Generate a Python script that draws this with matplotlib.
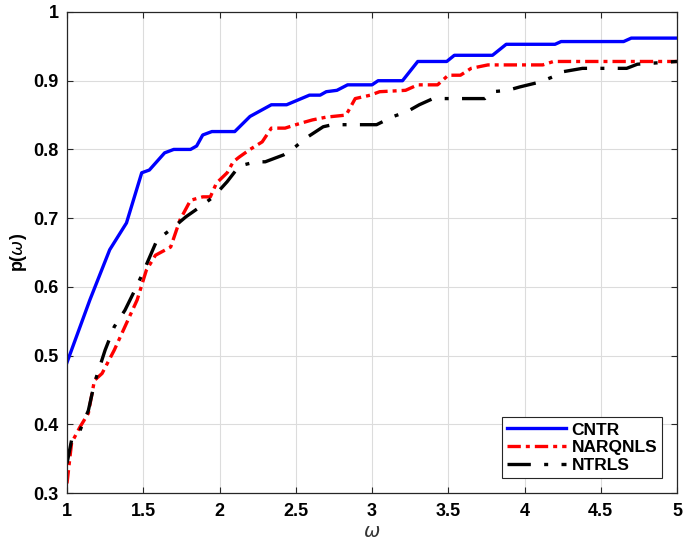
import matplotlib
matplotlib.use("Agg")
import matplotlib.pyplot as plt

cntr_x = [1, 1.15, 1.28, 1.39, 1.49, 1.54, 1.64, 1.70, 1.81, 1.85, 1.89, 1.95, 2.10, 2.20, 2.34, 2.44,
          2.59, 2.66, 2.70, 2.77, 2.84, 3.0, 3.04, 3.20, 3.30, 3.49, 3.54, 3.79, 3.88, 4.20, 4.24, 4.65, 4.70, 5.0]
cntr_y = [0.49, 0.581, 0.654, 0.693, 0.766, 0.770, 0.795, 0.80, 0.80, 0.805, 0.821, 0.826, 0.826, 0.848, 0.865, 0.865,
          0.879, 0.879, 0.884, 0.886, 0.894, 0.894, 0.90, 0.90, 0.928, 0.928, 0.937, 0.937, 0.953, 0.953, 0.957, 0.957, 0.962, 0.962]

narq_x = [1, 1.03, 1.085, 1.14, 1.18, 1.23, 1.31, 1.39, 1.46, 1.52, 1.58, 1.68, 1.74, 1.81, 1.89, 1.94, 1.98, 2.05,
          2.09, 2.13, 2.20, 2.28, 2.34, 2.43, 2.53, 2.61, 2.70, 2.83, 2.89, 2.99, 3.05, 3.22, 3.30, 3.43, 3.50, 3.58,
          3.65, 3.76, 4.12, 4.19, 5.0]
narq_y = [0.314, 0.373, 0.396, 0.416, 0.464, 0.474, 0.508, 0.547, 0.581, 0.624, 0.646, 0.658, 0.697, 0.726, 0.731,
          0.731, 0.751, 0.766, 0.782, 0.789, 0.80, 0.811, 0.831, 0.831, 0.838, 0.843, 0.847, 0.850, 0.874, 0.879, 0.884,
          0.886, 0.894, 0.894, 0.908, 0.908, 0.918, 0.923, 0.923, 0.928, 0.928]

ntrls_x = [1, 1.03, 1.085, 1.14, 1.18, 1.25, 1.31, 1.38, 1.46, 1.52, 1.59, 1.70, 1.78, 1.87, 1.96, 2.05, 2.13, 2.24,
           2.30, 2.42, 2.46, 2.57, 2.68, 2.74, 3.03, 3.14, 3.23, 3.31, 3.40, 3.74, 3.79, 3.89, 3.97, 4.10, 4.19, 4.25,
           4.38, 4.67, 4.74, 5.0]
ntrls_y = [0.343, 0.377, 0.391, 0.42, 0.46, 0.508, 0.542, 0.566, 0.602, 0.632, 0.668, 0.687, 0.702, 0.716, 0.731,
           0.753, 0.776, 0.782, 0.782, 0.792, 0.797, 0.817, 0.833, 0.836, 0.836, 0.848, 0.855, 0.865, 0.874, 0.874,
           0.884, 0.886, 0.891, 0.898, 0.906, 0.913, 0.918, 0.918, 0.924, 0.928]

x_ticks = [1, 1.5, 2, 2.5, 3, 3.5, 4, 4.5, 5]
x_labels = ["1", "1.5", "2", "2.5", "3", "3.5", "4", "4.5", "5"]
y_ticks = [0.3, 0.4, 0.5, 0.6, 0.7, 0.8, 0.9, 1.0]
y_labels = ["0.3", "0.4", "0.5", "0.6", "0.7", "0.8", "0.9", "1"]

plt.rcParams['font.family'] = ['Liberation Sans', 'DejaVu Sans']
plt.rcParams['mathtext.fontset'] = 'dejavusans'

fig = plt.figure(figsize=(6.85, 5.46), dpi=100)
ax = fig.add_axes([67/685, 53/546, 610/685, 481/546])

ax.plot(cntr_x, cntr_y, color='#0000ff', lw=2.4, label='CNTR')
ax.plot(narq_x, narq_y, color='#ff0000', lw=2.4, dashes=(4, 1.5, 1.2, 1.5), label='NARQNLS')
ax.plot(ntrls_x, ntrls_y, color='black', lw=2.4, dashes=(7, 4, 1.2, 4), label='NTRLS')

ax.set_xlim(1, 5)
ax.set_ylim(0.3, 1.0)
ax.set_xticks(x_ticks)
ax.set_xticklabels(x_labels, fontsize=13, fontweight='bold')
ax.set_yticks(y_ticks)
ax.set_yticklabels(y_labels, fontsize=13, fontweight='bold')
ax.tick_params(axis='x', pad=7)
ax.tick_params(axis='y', pad=6)
ax.tick_params(direction='in', top=True, right=True, length=4, width=0.8, color='#262626')
ax.grid(True, color='#dcdcdc', lw=0.8)
ax.set_axisbelow(True)
for s in ax.spines.values():
    s.set_color('#262626')
    s.set_linewidth(0.9)

ax.set_xlabel(r'$\omega$', fontsize=14, color='#333333', labelpad=3)
ax.set_ylabel(r'p($\omega$)', fontsize=13, fontweight='bold', labelpad=3)

leg = ax.legend(loc='lower right', prop={'weight': 'bold', 'size': 12.5}, frameon=True, fancybox=False,
                edgecolor='#262626', framealpha=1, borderpad=0.3, handlelength=3.4, handletextpad=0.3,
                labelspacing=0.15, borderaxespad=0.85)
leg.get_frame().set_linewidth(0.8)

fig.savefig('out.png', dpi=100)
